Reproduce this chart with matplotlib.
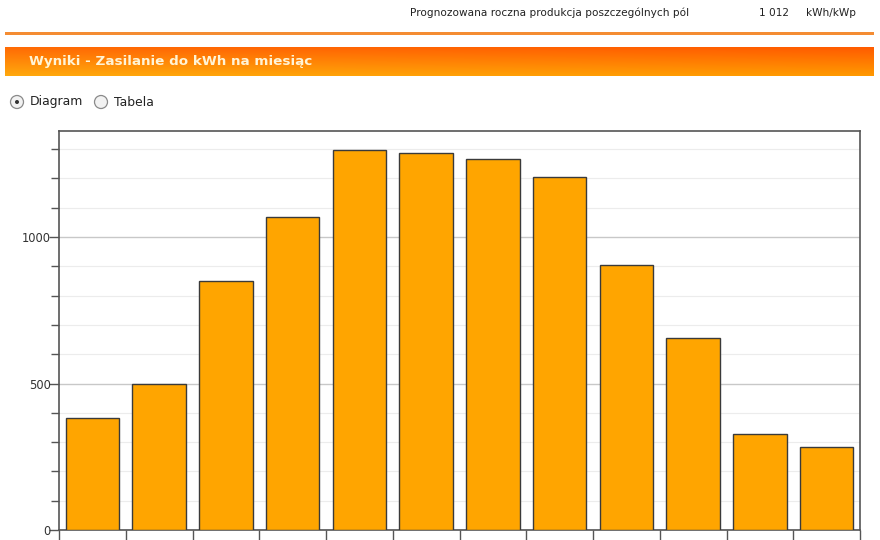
import matplotlib.pyplot as plt
import numpy as np
from matplotlib.patches import Circle

# monthly energy (kWh), Jan..Dec
months = ['Sty', 'Lut', 'Mar', 'Kwi', 'Maj', 'Cze', 'Lip', 'Sie', 'Wrz', 'Paz', 'Lis', 'Gru']
energy = [382, 498, 850, 1068, 1297, 1287, 1266, 1205, 904, 655, 328, 283]

header_label = 'Prognozowana roczna produkcja poszczególnych pól'
header_value = '1 012'
header_unit = 'kWh/kWp'
banner_title = 'Wyniki - Zasilanie do kWh na miesiąc'
radio_labels = ['Diagram', 'Tabela']

W, H = 880, 540
fig = plt.figure(figsize=(W / 100, H / 100), dpi=100)
fig.patch.set_facecolor('white')

def px(x, y):
    # pixel coords (top-left origin) -> figure fraction
    return x / W, 1 - y / H

# header line
fig.text(*px(410, 13), header_label, fontsize=7.6, color='#222222', va='center', ha='left')
fig.text(*px(759, 13), header_value, fontsize=7.6, color='#222222', va='center', ha='left')
fig.text(*px(806, 13), header_unit, fontsize=7.6, color='#222222', va='center', ha='left')

# orange separator line
sep = fig.add_axes([5 / W, 1 - 35 / H, 868 / W, 3 / H])
sep.axis('off')
sep.imshow(np.array([[[0.96, 0.55, 0.2]]]), aspect='auto', extent=[0, 1, 0, 1])

# orange gradient banner
ban = fig.add_axes([5 / W, 1 - 76 / H, 868 / W, 29 / H])
ban.axis('off')
gx = np.linspace(0, 1, 200)[None, :]
gy = np.linspace(0, 1, 30)[:, None]
left_top = np.array([1.0, 0.42, 0.02])
left_bot = np.array([1.0, 0.66, 0.05])
right_top = np.array([1.0, 0.36, 0.0])
right_bot = np.array([1.0, 0.60, 0.0])
top = left_top[None, None, :] * (1 - gx[..., None]) + right_top[None, None, :] * gx[..., None]
bot = left_bot[None, None, :] * (1 - gx[..., None]) + right_bot[None, None, :] * gx[..., None]
img = top * (1 - gy[..., None]) + bot * gy[..., None]
ban.imshow(img, aspect='auto', extent=[0, 1, 0, 1])
fig.text(*px(29, 61), banner_title, fontsize=9.7, fontweight='bold', color='#fff4d6', va='center', ha='left')

# radio buttons
ov = fig.add_axes([0, 0, 1, 1])
ov.set_xlim(0, W)
ov.set_ylim(H, 0)
ov.axis('off')
ov.set_zorder(-1)
for cx, label, on in [(17, radio_labels[0], True), (101, radio_labels[1], False)]:
    ov.add_patch(Circle((cx, 102), 6.5, facecolor='#f2f2f2', edgecolor='#8a8a8a', lw=0.9))
    if on:
        ov.add_patch(Circle((cx, 102), 2, facecolor='#333333', edgecolor='none'))
    ov.text(cx + 13, 102, label, fontsize=8.9, color='#222222', va='center', ha='left')

# chart
ax = fig.add_axes([59 / W, 10 / H, 801 / W, 399 / H])
x = np.arange(len(months))
ax.bar(x, energy, width=0.8, color='#ffa500', edgecolor='#3a3a3a', linewidth=1.0, zorder=3)
ax.set_xlim(-0.5, len(months) - 0.5)
ax.set_ylim(0, 1362)

ax.set_yticks([0, 500, 1000])
ax.set_yticks(np.arange(100, 1362, 100), minor=True)
ax.yaxis.grid(True, which='major', color='#c8c8c8', lw=1.0, zorder=0)
ax.yaxis.grid(True, which='minor', color='#ececec', lw=0.8, zorder=0)
ax.tick_params(axis='y', which='major', length=7, width=1, color='#555555', labelsize=8.3, labelcolor='#333333', pad=-1)
ax.tick_params(axis='y', which='minor', length=6, width=1, color='#555555')

ax.set_xticks(np.arange(-0.5, len(months), 1))
ax.set_xticklabels([])
ax.tick_params(axis='x', length=12, width=1, color='#555555')

for s in ax.spines.values():
    s.set_color('#555555')
    s.set_linewidth(1.2)

fig.savefig('out.png', dpi=100, facecolor='white')
